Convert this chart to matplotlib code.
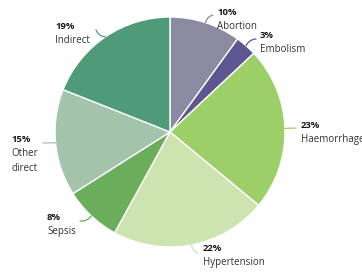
import matplotlib
matplotlib.use("Agg")
import matplotlib.pyplot as plt
import numpy as np

categories = ["Abortion", "Embolism", "Haemorrhage", "Hypertension", "Sepsis", "Other\ndirect", "Indirect"]
values = [10, 3, 23, 22, 8, 15, 19]
colors = ["#8b8aa0", "#5e5690", "#9ccf68", "#cde4b0", "#6aad5a", "#a3c4ab", "#4f9a78"]

W, H = 362, 276
fig = plt.figure(figsize=(W / 100, H / 100), dpi=100)
ax = fig.add_axes([0, 0, 1, 1])
ax.set_xlim(0, W)
ax.set_ylim(0, H)
ax.axis("off")

cx, cy, R = 170, H - 132, 115
wedges, _ = ax.pie(values, colors=colors, startangle=90, counterclock=False,
                   center=(cx, cy), radius=R,
                   wedgeprops=dict(edgecolor="white", linewidth=1.0))
ax.set_xlim(0, W)
ax.set_ylim(0, H)
ax.set_aspect("equal")

# label layout: (text x, percent baseline y in pixels, connector end x, y, rad)
layout = [
    (217, 15, 213, 15, -0.3),
    (260, 38, 256, 39, -0.3),
    (301, 128, 296, 128, 0.0),
    (203, 251, 198, 253, 0.3),
    (47, 220, 80, 221, -0.3),
    (11, 142, 43, 143, 0.0),
    (55, 29, 96, 30, -0.3),
]

fam = ["Open Sans", "DejaVu Sans"]
for w, cat, v, col, (tx, ty, ex, ey, rad) in zip(wedges, categories, values, colors, layout):
    ang = np.deg2rad((w.theta1 + w.theta2) / 2)
    sx, sy = cx + R * np.cos(ang), cy + R * np.sin(ang)
    ax.annotate("", xy=(ex, H - ey), xytext=(sx, sy),
                arrowprops=dict(arrowstyle="-", color=col, lw=0.9,
                                connectionstyle=f"arc3,rad={rad}",
                                shrinkA=0, shrinkB=0))
    ax.text(tx, H - ty, f"{v}%", fontsize=6.8, fontweight="bold", color="#1a1a1a",
            family=fam, va="baseline", ha="left")
    for i, line in enumerate(cat.split("\n")):
        ax.text(tx, H - ty - 14.4 * (i + 1), line, fontsize=7, color="#333333",
                family=fam, va="baseline", ha="left")

fig.savefig("out.png", dpi=100)
